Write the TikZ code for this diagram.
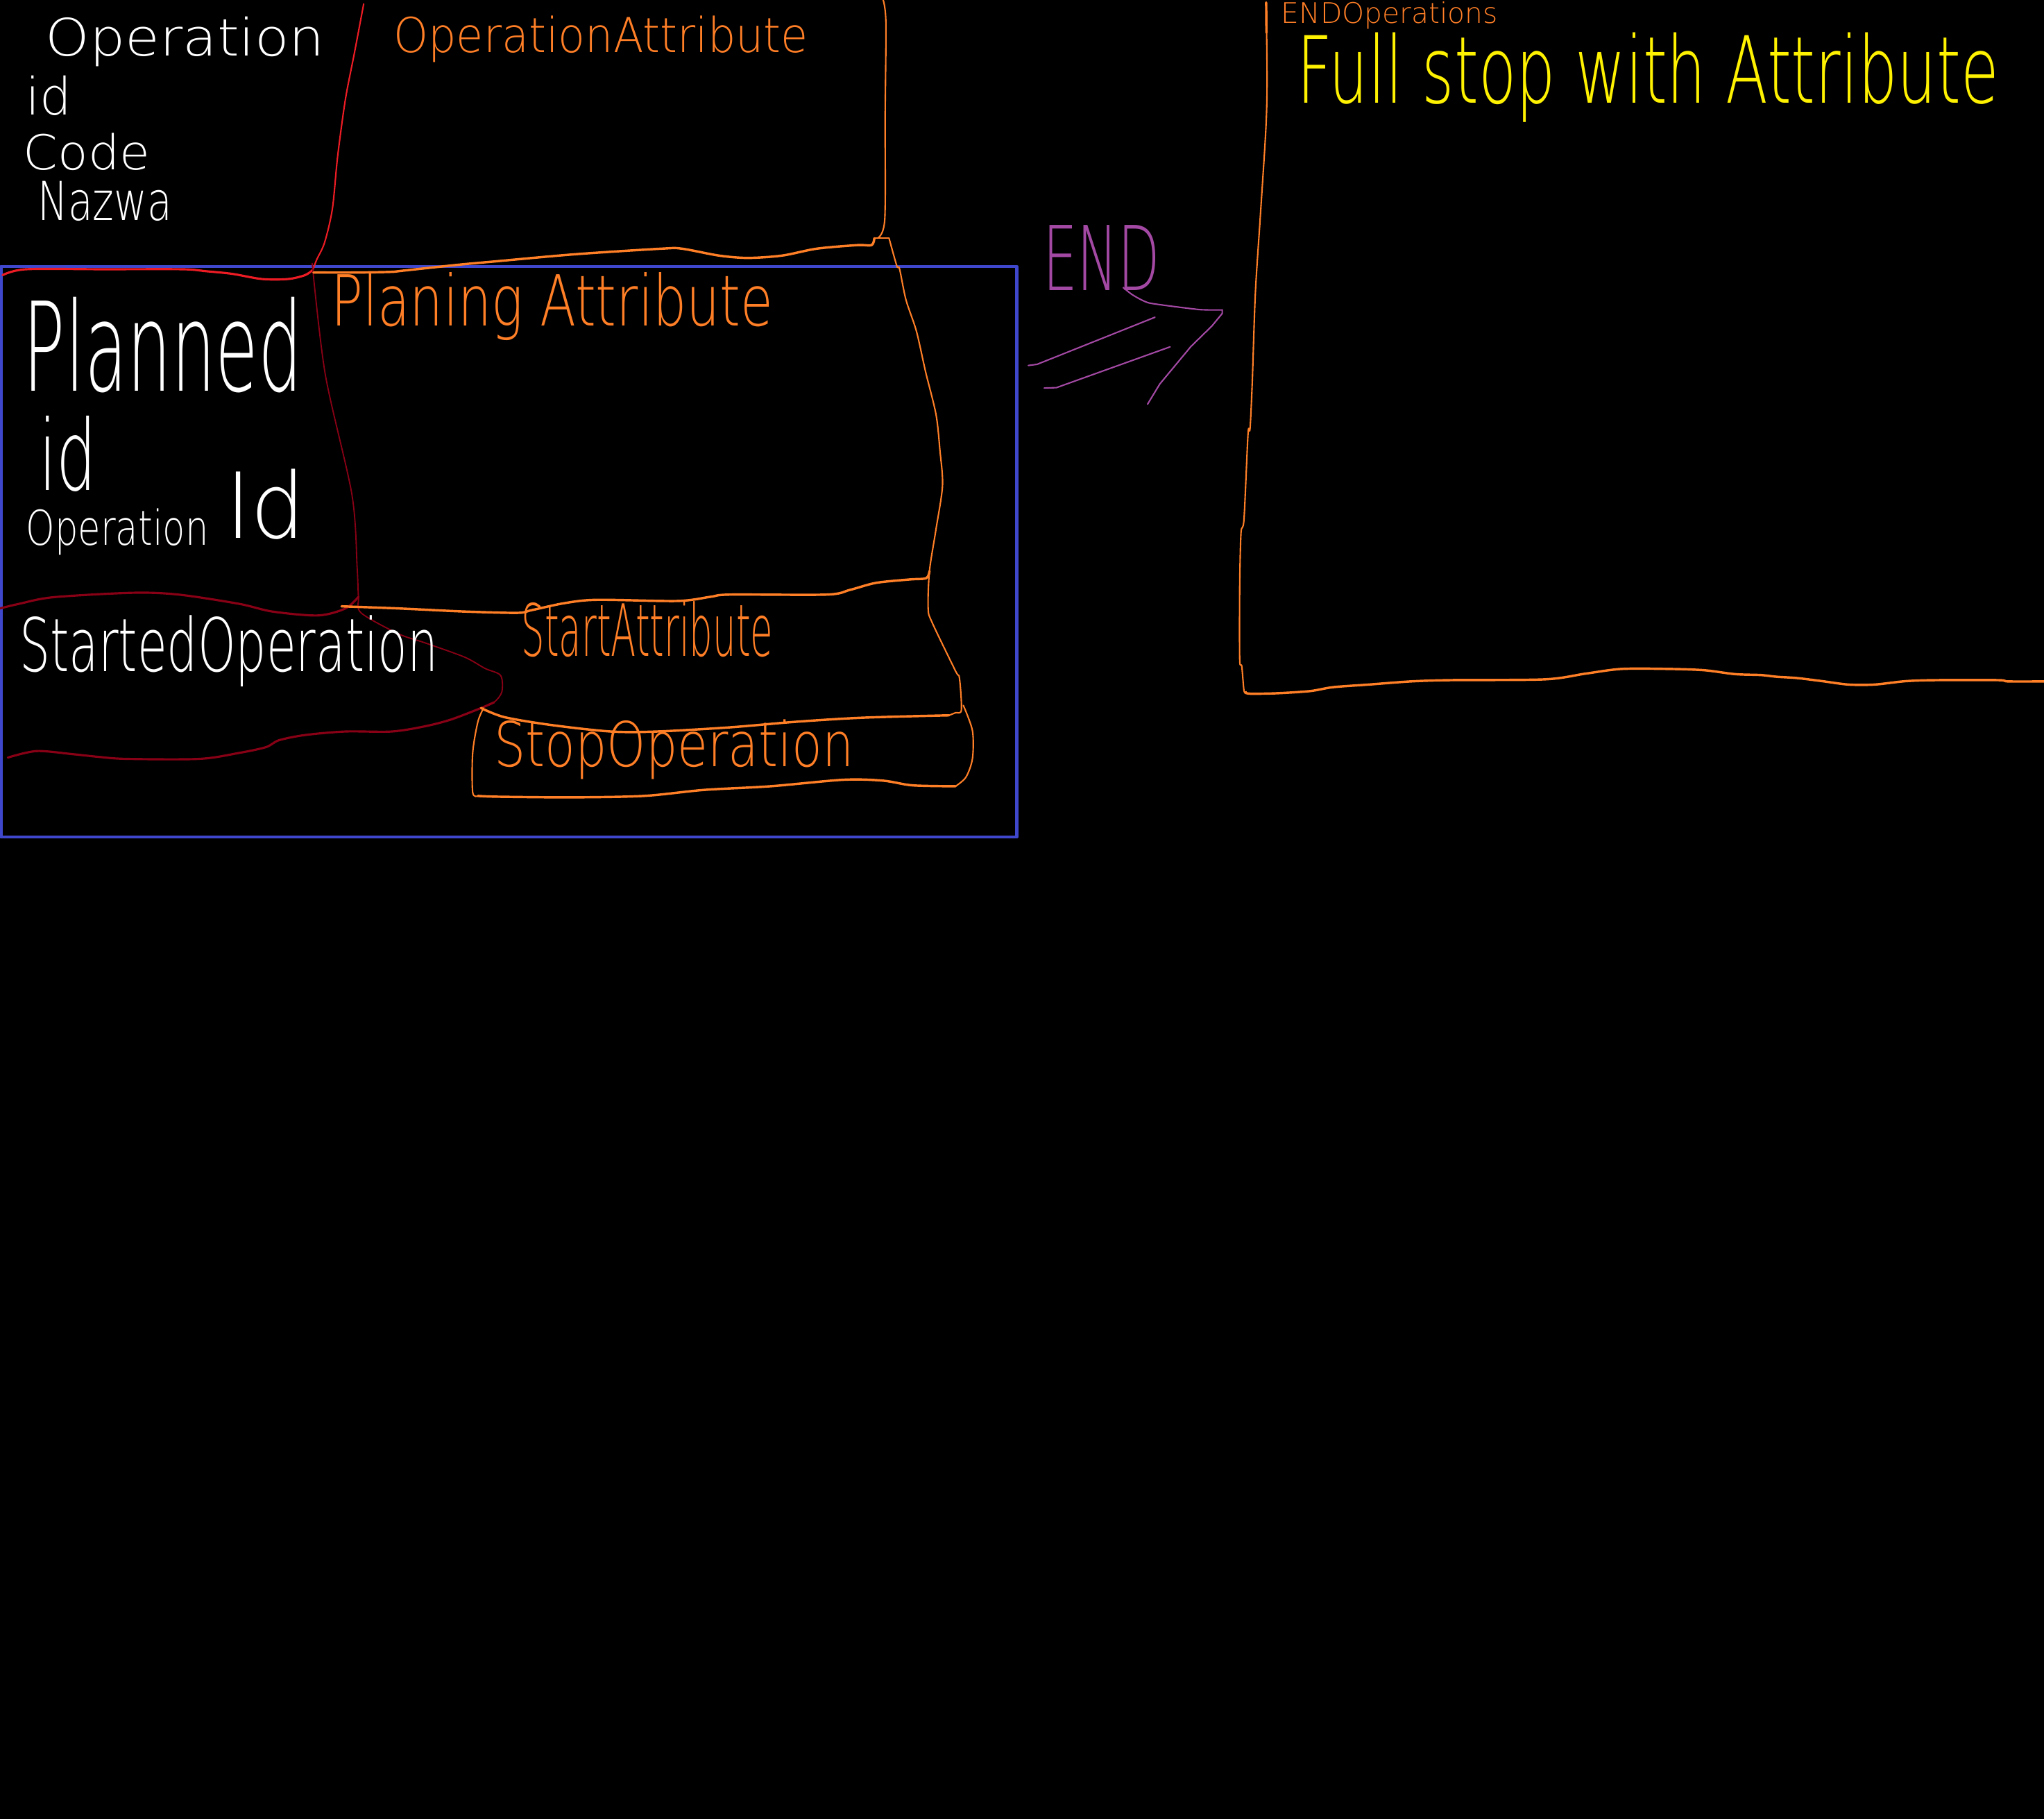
\documentclass[tikz,border=0pt]{standalone}
\usepackage{fontspec}
\IfFontExistsTF{DejaVu Sans ExtraLight}{\newfontfamily\handfont{DejaVu Sans ExtraLight}}{\newfontfamily\handfont{DejaVu Sans}}
\definecolor{pOrange}{RGB}{255,127,39}
\definecolor{pRed}{RGB}{237,28,36}
\definecolor{pDarkRed}{RGB}{136,0,21}
\definecolor{pBlue}{RGB}{63,72,204}
\definecolor{pPurple}{RGB}{163,73,164}
\definecolor{pYellow}{RGB}{255,242,0}
\newlength\U \setlength\U{0.05cm}
\newcommand\hw[3]{\resizebox{#1\U}{#2\U}{#3}}
\tikzset{
  lbl/.style={anchor=base west, inner sep=0pt, outer sep=0pt, font=\handfont},
  orthin/.style={draw=pOrange, line width=1.6pt},
  orthick/.style={draw=pOrange, line width=2.6pt},
  redthin/.style={draw=pRed, line width=1.6pt},
  redthick/.style={draw=pRed, line width=2.4pt},
  drthin/.style={draw=pDarkRed, line width=1.4pt},
  drthick/.style={draw=pDarkRed, line width=2.4pt},
  blueline/.style={draw=pBlue, line width=3.3pt},
  purpline/.style={draw=pPurple, line width=1.6pt},
}
\begin{document}
\begin{tikzpicture}[x=0.05cm, y=-0.05cm, line cap=round, line join=round]
\fill[black] (0,0) rectangle (1568,1395);
\useasboundingbox (0,0) rectangle (1568,1395);

% blue frame
\draw[blueline] (0.8,204.4) rectangle (780,642);

% bright red divider
\draw[redthin] plot[smooth] coordinates {(279,3) (272,40) (265,76) (259,120) (255,160) (249,186) (243,199) (240,207)};
\draw[redthick] plot[smooth] coordinates {(240,207) (234,211) (221,214) (201,214) (178,210) (158,208) (140,206.5) (80,206.5) (20,206.5) (2,211)};

% dark red lines
\draw[drthin] plot[smooth] coordinates {(239.5,202) (249.5,287) (270,379.5) (274,436) (275,458) (277,470) (305.5,486) (326,493) (356.5,504) (372,512.6) (384,518) (385,530.5) (379,538.6) (369,543)};
\draw[drthick] plot[smooth] coordinates {(379,538.6) (369,543) (346,551.8) (326,557) (300.5,561) (265,561) (234,563.7) (214,567.7) (204,573) (183,577.5) (153,582) (97,582) (76,580.5) (56,578.4) (28,576) (6,581)};
\draw[drthick] plot[smooth] coordinates {(0,466.6) (15,463) (41,458) (102,454.6) (137,456) (183,463) (209,469) (244,472) (265,466.6) (275,457.7)};

% orange: OperationAttribute box
\draw[orthin] plot[smooth] coordinates {(677.5,0) (679.6,17.7) (679,90) (678.7,168.5) (673,182.7)};
\draw[orthin] (670.7,182.7) -- (682,182.7);
\draw[orthick] plot[smooth] coordinates {(240.5,209) (273.6,209) (300,208.5) (309,207.6) (352,203) (379.5,200.5) (441,195) (507.6,190.7) (523,190.7) (551.5,196) (573.6,197.8) (600,196) (626.6,190.7) (657.5,188) (668.6,188) (670.7,182.7)};
% right edge of planing / started attribute
\draw[orthin] plot[smooth] coordinates {(682,182.7) (688,204) (690,206) (695,230) (703,254) (710,285) (718,317.7) (721,345) (723,372.5) (718,406) (713,438) (712,466.6) (715,477.3) (733,514.6) (736,520) (737.5,544.5) (733,546.6) (728,548.6)};
% top of started attribute
\draw[orthick] plot[smooth] coordinates {(262,465) (305.5,466.6) (356.5,469) (397,470) (407.6,468) (432.8,462.6) (458,460) (519.5,460.9) (545,457.7) (560,456) (634,456) (652,452.4) (672,447) (697.7,444.4) (710.5,443.4) (713,438)};
% bottom of started attribute
\draw[orthick] plot[smooth] coordinates {(369,543) (387,550) (422.7,556) (468.5,561) (504,561) (560,557.8) (611,553.5) (662,550.4) (728,548.6)};
% stop operation box
\draw[orthin] plot[smooth] coordinates {(371,543) (366.6,553.5) (362.6,577.5) (362.6,607.7) (366.6,610.4)};
\draw[orthick] plot[smooth] coordinates {(366.6,610.4) (382,611) (438,611.5) (494,610.4) (540,605.8) (591,603) (647,598) (677.5,598.7) (700,602.3) (733,603)};
\draw[orthin] plot[smooth] coordinates {(733,603) (741,596) (746,581.7) (746,560.5) (739,541)};

% right big box
\draw[orthick] (971.3,2) -- (971.5,25);
\draw[orthin] plot[smooth] coordinates {(971.3,1.7) (972,62) (971,100) (966.8,166) (963,225) (960.6,294) (958.9,329) (957.4,332.5) (954.3,398) (952,408.6) (951,450) (951,505.6) (952.6,511) (954.3,529.8) (956,530.4)};
\draw[orthick] plot[smooth] coordinates {(955,531) (959,532) (979,531.7) (1005,530) (1022.6,527) (1050,525) (1082,522.6) (1113,521.6) (1185,521) (1216.4,516.6) (1244,513) (1279.7,513) (1307.4,514) (1331,517) (1350.8,517.7) (1362.8,519) (1378.5,520) (1398,522.4) (1418,525) (1438,525) (1461.7,522.4) (1485.4,521.6) (1532.8,521.6) (1540.7,522.6) (1568,522.6)};

% purple arrow
\draw[purpline] (788.8,280.3) -- (795.6,279.4) -- (886,243.3);
\draw[purpline] (801,297.6) -- (810.4,297.3) -- (897.6,266);
\draw[purpline] plot[smooth, tension=0.3] coordinates {(861.6,220.5) (868.9,226.2) (881.7,232.4) (919.8,237.4) (937.6,237.7)};
\draw[purpline] (937.6,237.7) -- (937.6,240.4) -- (929.6,250.1) -- (913.6,265.7) -- (889.7,294.5) -- (880.3,310);

% texts
\node[lbl, text=white] (t1) at (35,43) {\hw{214}{30}{Operation}};
\node[lbl, text=white] (t2) at (20,88) {\hw{35}{30}{id}};
\node[lbl, text=white] (t3) at (18,130) {\hw{97}{28}{Code}};
\node[lbl, text=white] (t4) at (29,169) {\hw{103}{30}{Nazwa}};
\node[lbl, text=pOrange] (t5) at (302,40) {\hw{318}{28}{OperationAttribute}};
\node[lbl, text=pOrange] (t6) at (254,250) {\hw{339}{41}{Planing Attribute}};
\node[lbl, text=white] (t7) at (18,300) {\hw{214}{72}{Planned}};
\node[lbl, text=white] (t8) at (30,376) {\hw{44}{57}{id}};
\node[lbl, text=white] (t9) at (20,418) {\hw{140}{28}{Operation}};
\node[lbl, text=white] (t10) at (173,413) {\hw{61}{53}{Id}};
\node[lbl, text=white] (t11) at (15,515) {\hw{321}{43}{StartedOperation}};
\node[lbl, text=pOrange] (t12) at (400,503) {\hw{193}{42}{StartAttribute}};
\node[lbl, text=pOrange] (t13) at (379,588) {\hw{276}{36}{StopOperation}};
\node[lbl, text=pPurple] (t14) at (800,223) {\hw{90}{50}{END}};
\node[lbl, text=pOrange] (t15) at (983,18) {\hw{166}{16.5}{ENDOperations}};
\node[lbl, text=pYellow] (t16) at (995,79) {\hw{538}{54}{Full stop with Attribute}};
\end{tikzpicture}
\end{document}
